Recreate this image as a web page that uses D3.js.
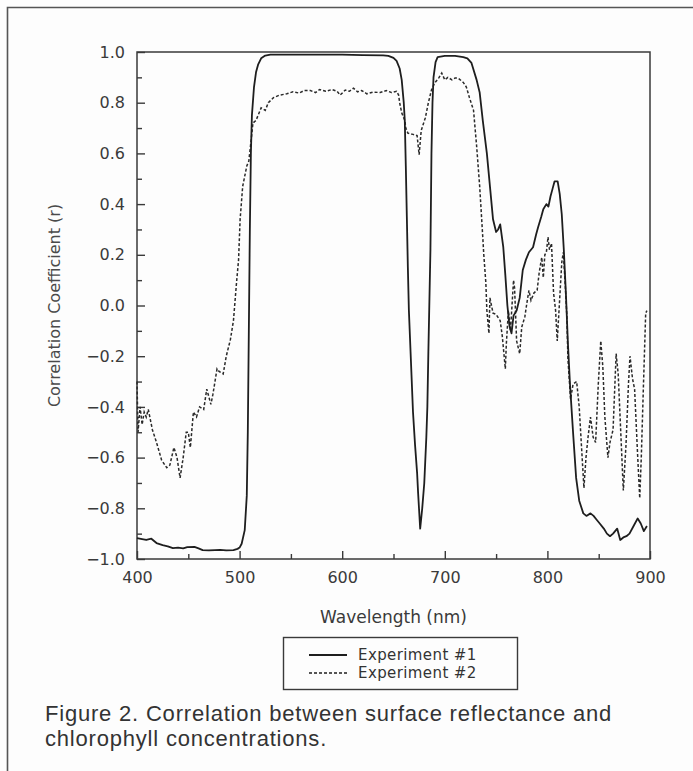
<!DOCTYPE html>
<html lang="en">
<head>
    <meta charset="UTF-8">
    <script src="https://d3js.org/d3.v7.min.js"></script>
    <style>
        body {margin: 0; background-color: #fdfdfd}
        svg {display: block}
        .axis text {font-family: "DejaVu Sans", sans-serif; font-size: 16px; fill: #3a3a3a}
        .axis path, .axis line {stroke: #3a3a3a; stroke-width: 1.4}
    </style>
</head>
<body>
<svg class="chart"></svg>
<script type="text/javascript">
    // Experiment #1 (solid line)
    let exp1Wavelength = [400, 405, 409, 414, 419, 425, 430, 435, 440, 445, 449, 456, 460, 464, 470, 476, 481, 487, 494, 498,
        500, 502, 505, 507, 508, 509, 510, 511, 512, 514, 516, 518, 521, 525, 530, 560, 600, 620, 640, 645,
        650, 653, 656, 658, 660, 661, 662, 663, 664, 665, 667, 669, 671, 673, 674, 676, 678, 680, 682, 683,
        684, 686, 687, 688, 689, 691, 693, 700, 710, 718, 722, 726, 731, 734, 737, 741, 744, 747, 750, 752,
        754, 757, 759, 761, 763, 765, 767, 770, 773, 776, 779, 782, 786, 789, 791, 794, 796, 799, 801, 803,
        805, 807, 810, 812, 814, 816, 818, 820, 822, 825, 828, 831, 835, 838, 842, 845, 848, 851, 855, 858,
        861, 864, 868, 871, 874, 877, 880, 884, 888, 891, 894, 897];
    let exp1R = [-0.918, -0.922, -0.925, -0.92, -0.937, -0.945, -0.95, -0.957, -0.955, -0.958, -0.953, -0.952, -0.958, -0.965, -0.966, -0.965, -0.964, -0.966, -0.965, -0.96,
        -0.955, -0.94, -0.886, -0.75, -0.5, -0.1, 0.3, 0.6, 0.75, 0.86, 0.92, 0.95, 0.975, 0.986, 0.99, 0.99, 0.99, 0.988, 0.987, 0.985,
        0.977, 0.965, 0.935, 0.89, 0.8, 0.73, 0.55, 0.35, 0.15, -0.02, -0.22, -0.42, -0.55, -0.66, -0.74, -0.88, -0.8, -0.7, -0.52, -0.4,
        -0.18, 0.22, 0.6, 0.8, 0.9, 0.96, 0.98, 0.985, 0.985, 0.98, 0.975, 0.957, 0.89, 0.84, 0.73, 0.6, 0.47, 0.34, 0.29, 0.3,
        0.32, 0.23, 0.12, 0.0, -0.08, -0.11, -0.04, -0.02, 0.03, 0.14, 0.18, 0.21, 0.23, 0.28, 0.31, 0.35, 0.38, 0.4, 0.39, 0.43,
        0.46, 0.49, 0.49, 0.44, 0.36, 0.22, 0.05, -0.15, -0.31, -0.5, -0.68, -0.77, -0.82, -0.83, -0.82, -0.83, -0.845, -0.86, -0.88, -0.9,
        -0.91, -0.9, -0.88, -0.925, -0.915, -0.91, -0.9, -0.87, -0.84, -0.86, -0.89, -0.87];

    // Experiment #2 (dashed line)
    let exp2Wavelength = [400, 401, 403, 405, 407, 409, 411, 415, 419, 424, 429, 432, 436, 439, 442, 445, 448, 450, 452, 455,
        458, 461, 465, 468, 472, 474, 478, 480, 484, 487, 491, 494, 497, 499, 500.5, 503, 507, 509, 512, 513,
        516, 521, 525, 528, 533, 539, 546, 552, 558, 563, 569, 574, 578, 584, 590, 595, 598, 603, 607, 611,
        615, 619, 624, 630, 637, 643, 648, 653, 655, 656, 658, 661, 662, 664, 669, 673, 675, 677, 681, 684,
        687, 690, 694, 697, 700, 703, 707, 710, 713, 718, 721, 724, 728, 731, 734, 737, 738, 740, 741, 743,
        744, 747, 750, 754, 756, 759, 760, 762, 764, 767, 768, 770, 773, 775, 778, 780, 782, 784, 787, 790,
        792, 794.5, 796, 797.5, 799, 800.6, 802, 804, 806, 808, 809.6, 811.6, 814, 815.5, 817, 819, 820, 822.6, 825, 828.5,
        831, 833, 835.6, 837.6, 839.6, 842, 844.6, 847, 849.6, 852, 854, 856, 859, 861, 864, 867, 869, 871.5, 874, 876.6,
        879, 880.5, 883, 885, 887.7, 890, 891.5, 893.5, 895.8, 897];
    let exp2R = [-0.3, -0.5, -0.4, -0.47, -0.42, -0.44, -0.41, -0.49, -0.54, -0.61, -0.64, -0.63, -0.56, -0.6, -0.68, -0.6, -0.5, -0.5, -0.56, -0.42,
        -0.44, -0.4, -0.41, -0.33, -0.39, -0.35, -0.25, -0.26, -0.27, -0.2, -0.135, -0.06, 0.09, 0.18, 0.34, 0.47, 0.55, 0.57, 0.68, 0.72,
        0.73, 0.78, 0.77, 0.8, 0.82, 0.83, 0.835, 0.843, 0.838, 0.848, 0.848, 0.84, 0.852, 0.845, 0.852, 0.845, 0.83, 0.85, 0.845, 0.857,
        0.843, 0.848, 0.835, 0.842, 0.84, 0.848, 0.84, 0.845, 0.83, 0.8, 0.76, 0.73, 0.7, 0.68, 0.675, 0.67, 0.595, 0.69, 0.74, 0.8,
        0.85, 0.877, 0.897, 0.917, 0.89, 0.9, 0.89, 0.897, 0.897, 0.88, 0.862, 0.82, 0.77, 0.63, 0.47, 0.27, 0.2, 0.09, -0.02, -0.11,
        0.03, -0.03, -0.035, -0.06, -0.12, -0.25, -0.15, -0.02, -0.1, 0.1, 0.07, -0.14, -0.19, -0.085, -0.045, 0.01, 0.06, 0.02, 0.05, 0.06,
        0.13, 0.19, 0.11, 0.2, 0.21, 0.27, 0.22, 0.245, 0.05, -0.02, -0.14, 0.0, 0.17, 0.21, 0.11, -0.045, -0.21, -0.37, -0.31, -0.3,
        -0.4, -0.54, -0.72, -0.6, -0.52, -0.44, -0.52, -0.54, -0.31, -0.14, -0.24, -0.44, -0.6, -0.54, -0.49, -0.19, -0.27, -0.5, -0.73, -0.55,
        -0.31, -0.2, -0.29, -0.33, -0.57, -0.76, -0.6, -0.33, -0.03, -0.02];

    let xTicks = [400, 500, 600, 700, 800, 900];
    let xMinorTicks = [450, 550, 650, 750, 850];
    let yTicks = [-1.0, -0.8, -0.6, -0.4, -0.2, 0.0, 0.2, 0.4, 0.6, 0.8, 1.0];
    let yMinorTicks = [-0.9, -0.7, -0.5, -0.3, -0.1, 0.1, 0.3, 0.5, 0.7, 0.9];
    let legendLabels = ['Experiment #1', 'Experiment #2'];
    let captionLines = ['Figure 2. Correlation between surface reflectance and', 'chlorophyll concentrations.'];

    let chartWidth = 693, chartHeight = 771;
    let plotLeft = 137, plotRight = 650, plotTop = 52, plotBottom = 559;

    var svg = d3.select('.chart').attr('width', chartWidth).attr('height', chartHeight);

    // outer figure frame (top and left edges visible)
    svg.append('path')
        .attr('d', 'M7.5,' + chartHeight + 'V7.5H' + chartWidth)
        .attr('fill', 'none').attr('stroke', '#555').attr('stroke-width', 1.6);

    var x = d3.scaleLinear().domain([400, 900]).range([plotLeft, plotRight]);
    var y = d3.scaleLinear().domain([-1, 1]).range([plotBottom, plotTop]);

    // minor ticks first, then major axes with labels
    svg.append('g').attr('class', 'axis').attr('transform', 'translate(0,' + plotBottom + ')')
        .call(d3.axisBottom(x).tickValues(xMinorTicks).tickSize(-5).tickFormat(''));
    svg.append('g').attr('class', 'axis').attr('transform', 'translate(' + plotLeft + ',0)')
        .call(d3.axisLeft(y).tickValues(yMinorTicks).tickSize(-5).tickFormat(''));

    svg.append('g').attr('class', 'axis').attr('transform', 'translate(0,' + plotBottom + ')')
        .call(d3.axisBottom(x).tickValues(xTicks).tickSize(-8).tickPadding(13).tickFormat(d3.format('d')));
    svg.append('g').attr('class', 'axis').attr('transform', 'translate(' + plotLeft + ',0)')
        .call(d3.axisLeft(y).tickValues(yTicks).tickSize(-8).tickPadding(12).tickFormat(d3.format('.1f')));

    svg.selectAll('.axis .domain').remove();

    svg.append('rect')
        .attr('x', plotLeft).attr('y', plotTop)
        .attr('width', plotRight - plotLeft).attr('height', plotBottom - plotTop)
        .attr('fill', 'none').attr('stroke', '#3a3a3a').attr('stroke-width', 1.5);

    var line = d3.line()
        .x(function (d) { return x(d[0]); })
        .y(function (d) { return y(d[1]); });

    svg.append('path')
        .datum(d3.zip(exp2Wavelength, exp2R))
        .attr('d', line)
        .attr('fill', 'none').attr('stroke', '#2a2a2a')
        .attr('stroke-width', 1.5).attr('stroke-dasharray', '3,2');

    svg.append('path')
        .datum(d3.zip(exp1Wavelength, exp1R))
        .attr('d', line)
        .attr('fill', 'none').attr('stroke', '#1e1e1e')
        .attr('stroke-width', 1.8).attr('stroke-linejoin', 'round');

    // axis titles
    svg.append('text')
        .attr('x', (plotLeft + plotRight) / 2).attr('y', 623)
        .attr('text-anchor', 'middle')
        .attr('font-family', 'DejaVu Sans').attr('font-size', 17).attr('fill', '#3a3a3a')
        .text('Wavelength (nm)');

    svg.append('text')
        .attr('transform', 'translate(60,' + (plotTop + plotBottom) / 2 + ') rotate(-90)')
        .attr('text-anchor', 'middle')
        .attr('font-family', 'DejaVu Sans').attr('font-size', 16).attr('fill', '#4a4a4a')
        .text('Correlation Coefficient (r)');

    // legend
    var legend = svg.append('g');
    legend.append('rect')
        .attr('x', 283.5).attr('y', 637.5).attr('width', 234).attr('height', 52)
        .attr('fill', 'none').attr('stroke', '#3a3a3a').attr('stroke-width', 1.4);

    legendLabels.forEach(function (label, i) {
        let ly = 655 + i * 18;
        legend.append('line')
            .attr('x1', 309).attr('x2', 347).attr('y1', ly).attr('y2', ly)
            .attr('stroke', '#1e1e1e')
            .attr('stroke-width', i === 0 ? 1.8 : 1.3)
            .attr('stroke-dasharray', i === 0 ? null : '3,2');
        legend.append('text')
            .attr('x', 358).attr('y', ly + 5)
            .attr('font-family', 'DejaVu Sans').attr('font-size', 15)
            .attr('letter-spacing', 0.4).attr('fill', '#333')
            .text(label);
    });

    // caption
    captionLines.forEach(function (t, i) {
        svg.append('text')
            .attr('x', 45).attr('y', 721 + i * 25)
            .attr('font-family', 'Liberation Sans, Arial, sans-serif')
            .attr('font-size', 22).attr('letter-spacing', 0.8).attr('fill', '#333')
            .text(t);
    });
</script>
</body>
</html>
